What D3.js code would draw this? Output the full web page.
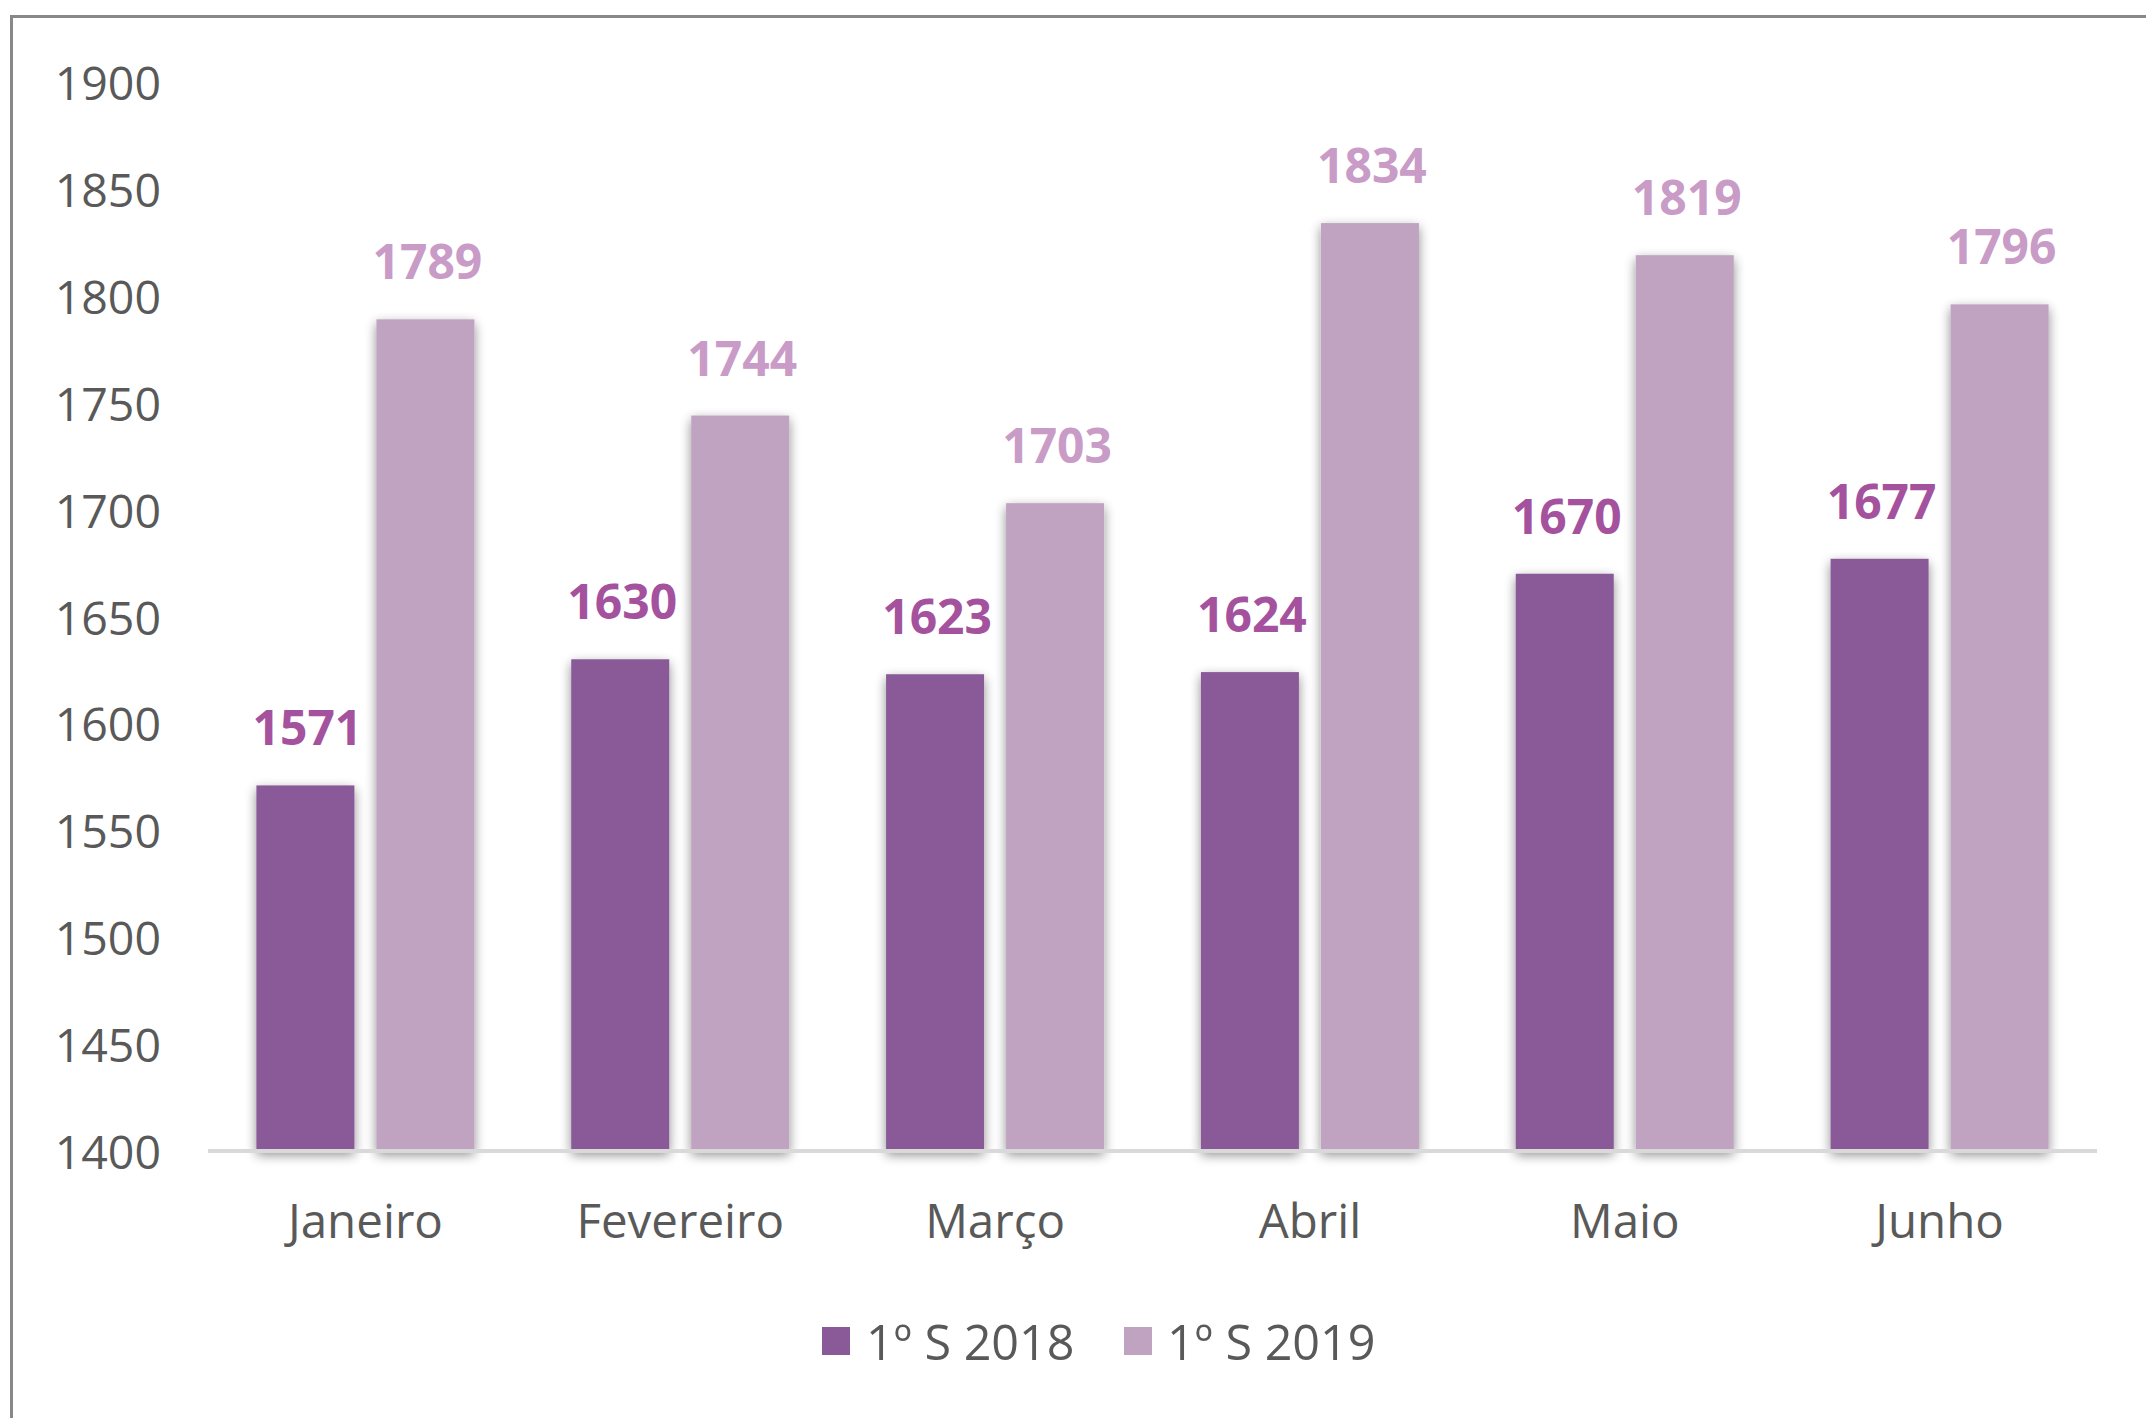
<!DOCTYPE html>
<html>
<head>
<meta charset="utf-8">
<script src="https://cdn.jsdelivr.net/npm/d3@7"></script>
<style>
  html, body { margin: 0; padding: 0; background: #ffffff; }
  svg { display: block; }
  text { font-family: "Open Sans", "Noto Sans", sans-serif; }
</style>
</head>
<body>
<svg id="chart" width="2146" height="1418"></svg>
<script>
const categories = ["Janeiro", "Fevereiro", "Março", "Abril", "Maio", "Junho"];
const seriesNames = ["1º S 2018", "1º S 2019"];
const values2018 = [1571, 1630, 1623, 1624, 1670, 1677];
const values2019 = [1789, 1744, 1703, 1834, 1819, 1796];
const yTicks = [1400, 1450, 1500, 1550, 1600, 1650, 1700, 1750, 1800, 1850, 1900];

const barColors = ["#8a5a98", "#c0a2c1"];
const labelColors = ["#a4529d", "#c99bc7"];

const svg = d3.select("#chart");
const W = 2146, H = 1418;

// frame (continues past right & bottom edges)
svg.append("rect")
  .attr("x", 11.5).attr("y", 16.5)
  .attr("width", W + 20).attr("height", H + 20)
  .attr("fill", "#ffffff")
  .attr("stroke", "#888888").attr("stroke-width", 3);

const defs = svg.append("defs");
const f = defs.append("filter").attr("id", "shadow")
  .attr("x", "-40%").attr("y", "-10%").attr("width", "180%").attr("height", "120%");
f.append("feGaussianBlur").attr("in", "SourceAlpha").attr("stdDeviation", 6).attr("result", "b");
f.append("feOffset").attr("in", "b").attr("dx", 0).attr("dy", 4).attr("result", "o");
f.append("feComponentTransfer").attr("in", "o").attr("result", "s")
  .append("feFuncA").attr("type", "linear").attr("slope", 0.45);
const m = f.append("feMerge");
m.append("feMergeNode").attr("in", "s");
m.append("feMergeNode").attr("in", "SourceGraphic");

const x0 = d3.scaleBand().domain(categories).range([208, 2097])
  .paddingInner(0.3075).paddingOuter(0.15375);
const x1 = d3.scaleBand().domain(seriesNames).range([0, x0.bandwidth()])
  .paddingInner(22 / 120).paddingOuter(0);
const y = d3.scaleLinear().domain([1400, 1900]).range([1151, 82]);

const data = categories.map((c, i) => ({ cat: c, vals: [values2018[i], values2019[i]] }));

// y tick labels
svg.append("g").selectAll("text").data(yTicks).join("text")
  .attr("x", 161).attr("y", d => y(d))
  .attr("text-anchor", "end").attr("dominant-baseline", "central")
  .attr("font-size", 46.5).attr("fill", "#595959")
  .text(d => d);

// bars
const groups = svg.append("g").selectAll("g").data(data).join("g")
  .attr("transform", d => `translate(${x0(d.cat)},0)`);

groups.selectAll("rect").data(d => d.vals.map((v, k) => ({ v, k }))).join("rect")
  .attr("x", d => x1(seriesNames[d.k]))
  .attr("y", d => y(d.v))
  .attr("width", x1.bandwidth())
  .attr("height", d => y(1400) - y(d.v))
  .attr("fill", d => barColors[d.k])
  .attr("filter", "url(#shadow)");

// axis line
svg.append("line")
  .attr("x1", 208).attr("x2", 2097)
  .attr("y1", y(1400)).attr("y2", y(1400))
  .attr("stroke", "#d9d9d9").attr("stroke-width", 4);

// data labels
groups.selectAll("text.lbl").data(d => d.vals.map((v, k) => ({ v, k }))).join("text")
  .attr("class", "lbl")
  .attr("x", d => x1(seriesNames[d.k]) + x1.bandwidth() / 2 + 2)
  .attr("y", d => y(d.v) - 40)
  .attr("text-anchor", "middle")
  .attr("font-size", 48).attr("font-weight", "bold")
  .attr("fill", d => labelColors[d.k])
  .text(d => d.v);

// category labels
svg.append("g").selectAll("text").data(categories).join("text")
  .attr("x", d => x0(d) + x0.bandwidth() / 2)
  .attr("y", 1219)
  .attr("text-anchor", "middle").attr("dominant-baseline", "central")
  .attr("font-size", 47.5).attr("fill", "#595959")
  .text(d => d);

// legend
const legendItems = [
  { name: seriesNames[0], color: barColors[0], sx: 822, tx: 866 },
  { name: seriesNames[1], color: barColors[1], sx: 1124, tx: 1167 }
];
const lg = svg.append("g").selectAll("g").data(legendItems).join("g");
lg.append("rect").attr("x", d => d.sx).attr("y", 1327).attr("width", 28).attr("height", 28)
  .attr("fill", d => d.color);
lg.append("text").attr("x", d => d.tx).attr("y", 1341)
  .attr("dominant-baseline", "central")
  .attr("font-size", 48.5).attr("fill", "#595959")
  .text(d => d.name);
</script>
</body>
</html>
